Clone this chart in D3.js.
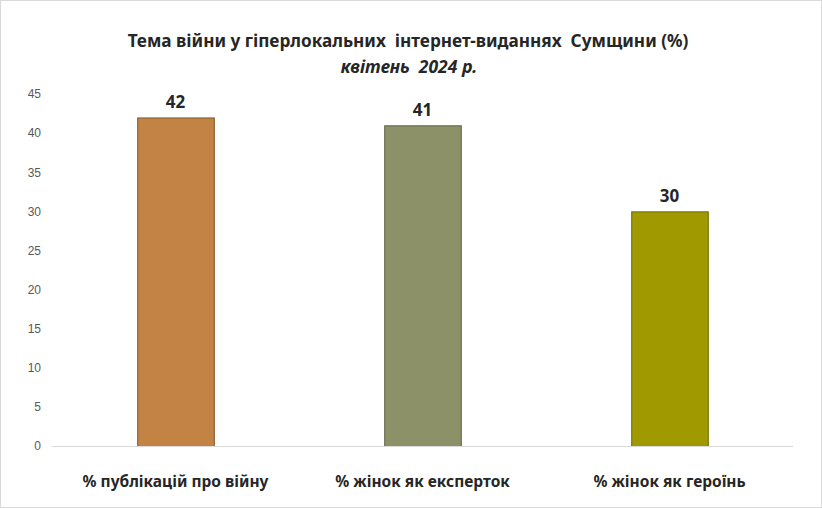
<!DOCTYPE html>
<html>
<head>
<meta charset="utf-8">
<script src="https://cdn.jsdelivr.net/npm/d3@7"></script>
<style>
  body { margin: 0; background: #fff; }
  text { font-family: "Noto Sans", sans-serif; }
</style>
</head>
<body>
<div id="chart"></div>
<script>
const categories = ["% публікацій про війну", "% жінок як експерток", "% жінок як героїнь"];
const values = [42, 41, 30];
const barColors = ["#C28344", "#8C9168", "#A09A00"];
const barStrokes = ["#7F5428", "#5F6446", "#6E6A00"];
const yTicks = [0, 5, 10, 15, 20, 25, 30, 35, 40, 45];

const WIDTH = 822, HEIGHT = 508;
const MARGIN = { LEFT: 52, RIGHT: 29, TOP: 94, BOTTOM: 62 };

const svg = d3.select("#chart").append("svg")
    .attr("width", WIDTH)
    .attr("height", HEIGHT);

// outer frame
svg.append("rect")
    .attr("x", 0.5).attr("y", 0.5)
    .attr("width", WIDTH - 1).attr("height", HEIGHT - 1)
    .attr("fill", "#fff")
    .attr("stroke", "#D9D9D9");

// titles
svg.append("text")
    .attr("x", 408).attr("y", 47)
    .attr("text-anchor", "middle")
    .style("font-size", "17.2px")
    .style("font-weight", "bold")
    .attr("fill", "#262626")
    .attr("xml:space", "preserve")
    .text("Тема війни у гіперлокальних  інтернет-виданнях  Сумщини (%)");

svg.append("text")
    .attr("x", 409).attr("y", 73)
    .attr("text-anchor", "middle")
    .style("font-size", "17.5px")
    .style("font-weight", "bold")
    .style("font-style", "italic")
    .attr("fill", "#262626")
    .attr("xml:space", "preserve")
    .text("квітень  2024 р.");

const x = d3.scaleBand()
    .domain(categories)
    .range([MARGIN.LEFT, WIDTH - MARGIN.RIGHT])
    .paddingInner(0.69)
    .paddingOuter(0.345);

const y = d3.scaleLinear()
    .domain([0, 45])
    .range([HEIGHT - MARGIN.BOTTOM, MARGIN.TOP]);

// y axis labels
const yAxis = svg.append("g")
    .attr("transform", `translate(${MARGIN.LEFT - 11},0)`)
    .call(d3.axisLeft(y).tickValues(yTicks).tickSize(0).tickPadding(0));
yAxis.select(".domain").remove();
yAxis.selectAll("text")
    .style("font-family", "'Liberation Sans', Arial, sans-serif")
    .style("font-size", "12px")
    .attr("fill", "#595959");

// bars
svg.append("g").selectAll("rect")
    .data(values)
    .enter().append("rect")
    .attr("x", (d, i) => x(categories[i]) + 0.5)
    .attr("y", d => y(d) + 0.5)
    .attr("width", x.bandwidth())
    .attr("height", d => y(0) - y(d))
    .attr("fill", (d, i) => barColors[i])
    .attr("stroke", (d, i) => barStrokes[i])
    .attr("stroke-width", 1);

// baseline
svg.append("line")
    .attr("x1", MARGIN.LEFT).attr("x2", WIDTH - MARGIN.RIGHT)
    .attr("y1", y(0) + 0.5).attr("y2", y(0) + 0.5)
    .attr("stroke", "#D9D9D9");

// value labels
svg.append("g").selectAll("text")
    .data(values)
    .enter().append("text")
    .attr("x", (d, i) => x(categories[i]) + x.bandwidth() / 2)
    .attr("y", d => y(d) - 9)
    .attr("text-anchor", "middle")
    .style("font-size", "17px")
    .style("font-weight", "bold")
    .attr("fill", "#262626")
    .text(d => d);

// category labels
const xAxis = svg.append("g")
    .attr("transform", `translate(0,${y(0)})`)
    .call(d3.axisBottom(x).tickSize(0).tickPadding(30));
xAxis.select(".domain").remove();
xAxis.selectAll("text")
    .style("font-size", "15.5px")
    .style("font-weight", "bold")
    .attr("fill", "#262626");
</script>
</body>
</html>
